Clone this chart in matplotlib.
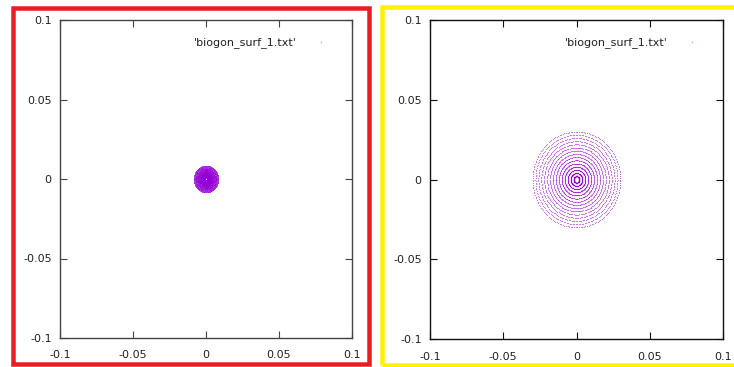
import numpy as np
import matplotlib
matplotlib.use("Agg")
import matplotlib.pyplot as plt
from matplotlib.patches import Rectangle

# ===== data =====
legend_label = "'biogon_surf_1.txt'"
ticks = [-0.1, -0.05, 0, 0.05, 0.1]
tick_labels = ["-0.1", "-0.05", "0", "0.05", "0.1"]

# ring radii of the two surfaces (data units)
radii_left = [0.0006, 0.0012, 0.0018, 0.0024, 0.003, 0.0036, 0.0042, 0.0048,
              0.0054, 0.006, 0.0066, 0.0072, 0.0078, 0.0084]
radii_right = [0.002, 0.004, 0.006, 0.008, 0.01, 0.012, 0.014, 0.016,
               0.018, 0.02, 0.022, 0.024, 0.026, 0.028, 0.030]
points_per_ring = 170

purple = "#9400d3"

W, H = 734, 367
fig = plt.figure(figsize=(W / 100, H / 100), dpi=100)
plt.rcParams['font.family'] = ['DejaVu Sans']


def px_axes(x0, y0, x1, y1):
    # pixel box (from top-left) -> figure fraction axes
    return fig.add_axes([x0 / W, 1 - y1 / H, (x1 - x0) / W, (y1 - y0) / H])


def draw_panel(ax, radii, spine_color, msize, alpha):
    t = np.linspace(0, 2 * np.pi, points_per_ring, endpoint=False)
    for r in radii:
        ax.plot(r * np.cos(t), r * np.sin(t), linestyle="none", marker="s",
                markersize=msize, markeredgewidth=0, color=purple, alpha=alpha)
    ax.set_xlim(-0.1, 0.1)
    ax.set_ylim(-0.1, 0.1)
    ax.set_xticks(ticks)
    ax.set_xticklabels(tick_labels)
    ax.set_yticks(ticks)
    ax.set_yticklabels(tick_labels)
    ax.tick_params(direction="in", length=5, width=0.8, top=True, right=True,
                   labelsize=8, color=spine_color, labelcolor="#222222")
    ax.tick_params(axis="x", pad=9)
    ax.tick_params(axis="y", pad=6)
    for s in ax.spines.values():
        s.set_color(spine_color)
        s.set_linewidth(1.0)
    # gnuplot style key
    ax.text(0.81, 0.93, legend_label, transform=ax.transAxes, ha="right",
            va="center", fontsize=8, color="#222222")
    ax.plot([0.895], [0.93], transform=ax.transAxes, marker="s",
            markersize=1, markeredgewidth=0, color=purple, alpha=0.4)


ax1 = px_axes(60, 20, 352, 338)
draw_panel(ax1, radii_left, "#444444", 0.6, 0.45)

ax2 = px_axes(430, 20, 723, 339)
draw_panel(ax2, radii_right, "#111111", 0.8, 0.5)

# coloured frames around both screenshots
lw_px = 4.5
fig.patches.append(Rectangle((12.5 / W, 1 - 363.5 / H), (368.5 - 12.5) / W,
                             (363.5 - 7.5) / H, transform=fig.transFigure,
                             fill=False, edgecolor="#ed1c24",
                             linewidth=lw_px * 0.72))
fig.patches.append(Rectangle((382 / W, 1 - 365 / H), (740 - 382) / W,
                             (365 - 7) / H, transform=fig.transFigure,
                             fill=False, edgecolor="#fff200",
                             linewidth=lw_px * 0.72, clip_on=False))

fig.savefig("out.png", dpi=100)
